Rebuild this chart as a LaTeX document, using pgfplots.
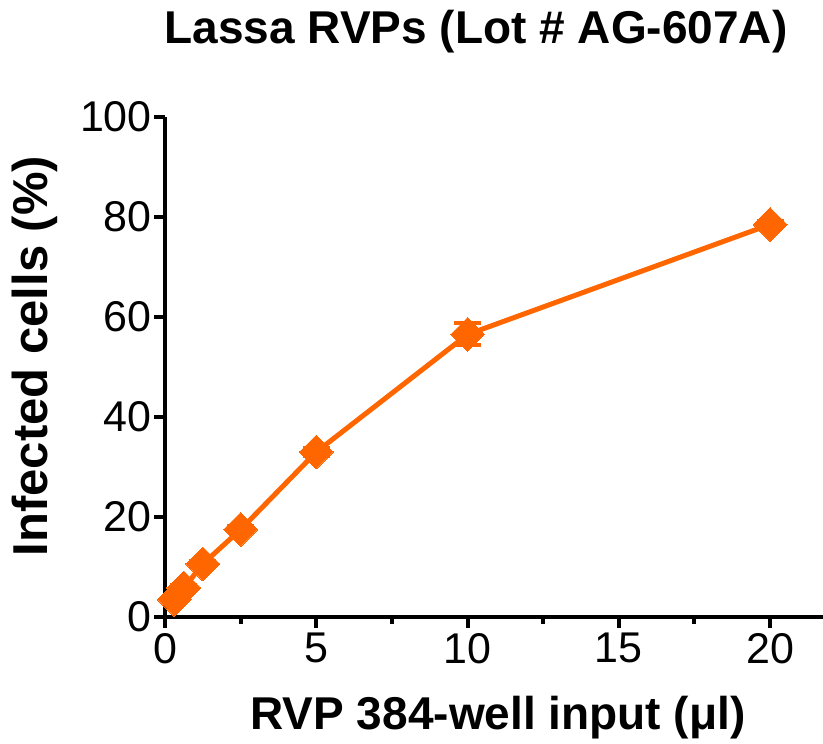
\documentclass[border=0pt]{standalone}
\usepackage{fontspec}
\setmainfont{Liberation Sans}
\usepackage{pgfplots}
\pgfplotsset{compat=1.18}
\definecolor{lorange}{HTML}{FF6600}
\begin{document}
\begin{tikzpicture}
\path[use as bounding box] (0,0) rectangle (823pt,744pt);
\begin{axis}[
  at={(165pt,127pt)}, anchor=south west,
  scale only axis, width=658pt, height=500pt,
  xmin=0, xmax=21.75, ymin=0, ymax=100,
  axis lines=left,
  axis line style={line width=4.5pt, -},
  every tick/.style={line width=4pt, black},
  tick align=outside, major tick length=11pt, minor tick length=7pt,
  xtick={0,5,10,15,20}, minor xtick={2.5,7.5,12.5,17.5},
  ytick={0,20,40,60,80,100},
  tick label style={font=\fontsize{43}{43}\selectfont},
  yticklabel style={inner sep=2pt},
  xticklabel style={inner sep=5pt},
  /pgf/number format/assume math mode=true,
  title={Lassa RVPs (Lot \# AG-607A)},
  title style={at={(axis description cs:0.5,1)}, anchor=center, xshift=-18pt, yshift=79pt, font=\bfseries\fontsize{46}{46}\selectfont},
  xlabel={RVP 384-well input (μl)},
  xlabel style={at={(axis description cs:0.5,0)}, anchor=center, xshift=4pt, yshift=-101pt, font=\bfseries\fontsize{46}{46}\selectfont},
  ylabel={Infected cells (\%)},
  ylabel style={at={(axis description cs:0,0.5)}, anchor=center, yshift=130pt, xshift=11pt, font=\bfseries\fontsize{49}{49}\selectfont},
  clip=false,
]
\addplot[color=lorange, line width=5pt, mark=square*, mark size=12pt,
  mark options={rotate=45, solid, fill=lorange, draw=lorange, line width=0pt},
  error bars/.cd, y dir=both, y explicit,
  error bar style={line width=4pt, color=lorange},
  error mark options={rotate=90, mark size=13.5pt, line width=4pt, color=lorange}]
  coordinates {
  (0.3125,3.5) +- (0,0.4)
  (0.625,5.8) +- (0,0.5)
  (1.25,10.6) +- (0,0.6)
  (2.5,17.5) +- (0,0.6)
  (5,33) +- (0,0.8)
  (10,56.5) +- (0,2.2)
  (20,78.5) +- (0,0.6)
  };
\end{axis}
\end{tikzpicture}
\end{document}
